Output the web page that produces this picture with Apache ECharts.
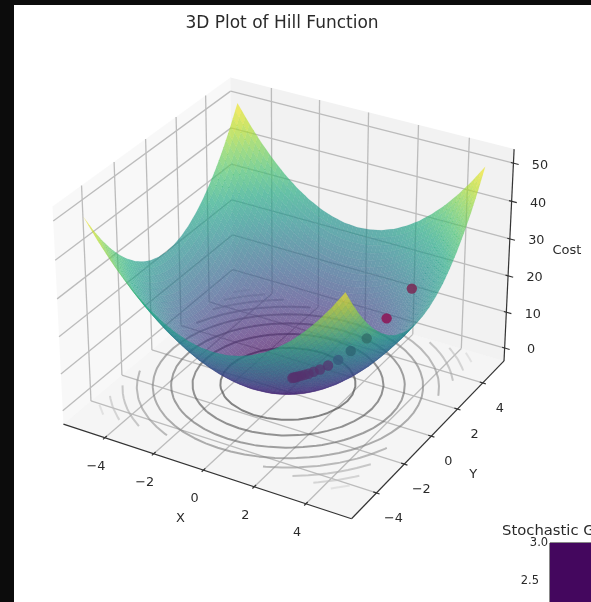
<!DOCTYPE html>
<html><head><meta charset="utf-8">
<style>
html,body{margin:0;padding:0;background:#0c0c0c;width:591px;height:602px;overflow:hidden}
#c{position:absolute;left:14px;top:5px;width:577px;height:597px;background:#fff}
#c canvas{filter:blur(0.55px)}
</style>
<script src="https://cdn.jsdelivr.net/npm/echarts@6/dist/echarts.min.js"></script>
</head><body><div id="c"></div>
<script>
// ---- data ----
const gridX = [-5,-4.5,-4,-3.5,-3,-2.5,-2,-1.5,-1,-0.5,0,0.5,1,1.5,2,2.5,3,3.5,4,4.5,5];
const gridY = [-5,-4.5,-4,-3.5,-3,-2.5,-2,-1.5,-1,-0.5,0,0.5,1,1.5,2,2.5,3,3.5,4,4.5,5];
const costGrid = [
[50,45.25,41,37.25,34,31.25,29,27.25,26,25.25,25,25.25,26,27.25,29,31.25,34,37.25,41,45.25,50],
[45.25,40.5,36.25,32.5,29.25,26.5,24.25,22.5,21.25,20.5,20.25,20.5,21.25,22.5,24.25,26.5,29.25,32.5,36.25,40.5,45.25],
[41,36.25,32,28.25,25,22.25,20,18.25,17,16.25,16,16.25,17,18.25,20,22.25,25,28.25,32,36.25,41],
[37.25,32.5,28.25,24.5,21.25,18.5,16.25,14.5,13.25,12.5,12.25,12.5,13.25,14.5,16.25,18.5,21.25,24.5,28.25,32.5,37.25],
[34,29.25,25,21.25,18,15.25,13,11.25,10,9.25,9,9.25,10,11.25,13,15.25,18,21.25,25,29.25,34],
[31.25,26.5,22.25,18.5,15.25,12.5,10.25,8.5,7.25,6.5,6.25,6.5,7.25,8.5,10.25,12.5,15.25,18.5,22.25,26.5,31.25],
[29,24.25,20,16.25,13,10.25,8,6.25,5,4.25,4,4.25,5,6.25,8,10.25,13,16.25,20,24.25,29],
[27.25,22.5,18.25,14.5,11.25,8.5,6.25,4.5,3.25,2.5,2.25,2.5,3.25,4.5,6.25,8.5,11.25,14.5,18.25,22.5,27.25],
[26,21.25,17,13.25,10,7.25,5,3.25,2,1.25,1,1.25,2,3.25,5,7.25,10,13.25,17,21.25,26],
[25.25,20.5,16.25,12.5,9.25,6.5,4.25,2.5,1.25,0.5,0.25,0.5,1.25,2.5,4.25,6.5,9.25,12.5,16.25,20.5,25.25],
[25,20.25,16,12.25,9,6.25,4,2.25,1,0.25,0,0.25,1,2.25,4,6.25,9,12.25,16,20.25,25],
[25.25,20.5,16.25,12.5,9.25,6.5,4.25,2.5,1.25,0.5,0.25,0.5,1.25,2.5,4.25,6.5,9.25,12.5,16.25,20.5,25.25],
[26,21.25,17,13.25,10,7.25,5,3.25,2,1.25,1,1.25,2,3.25,5,7.25,10,13.25,17,21.25,26],
[27.25,22.5,18.25,14.5,11.25,8.5,6.25,4.5,3.25,2.5,2.25,2.5,3.25,4.5,6.25,8.5,11.25,14.5,18.25,22.5,27.25],
[29,24.25,20,16.25,13,10.25,8,6.25,5,4.25,4,4.25,5,6.25,8,10.25,13,16.25,20,24.25,29],
[31.25,26.5,22.25,18.5,15.25,12.5,10.25,8.5,7.25,6.5,6.25,6.5,7.25,8.5,10.25,12.5,15.25,18.5,22.25,26.5,31.25],
[34,29.25,25,21.25,18,15.25,13,11.25,10,9.25,9,9.25,10,11.25,13,15.25,18,21.25,25,29.25,34],
[37.25,32.5,28.25,24.5,21.25,18.5,16.25,14.5,13.25,12.5,12.25,12.5,13.25,14.5,16.25,18.5,21.25,24.5,28.25,32.5,37.25],
[41,36.25,32,28.25,25,22.25,20,18.25,17,16.25,16,16.25,17,18.25,20,22.25,25,28.25,32,36.25,41],
[45.25,40.5,36.25,32.5,29.25,26.5,24.25,22.5,21.25,20.5,20.25,20.5,21.25,22.5,24.25,26.5,29.25,32.5,36.25,40.5,45.25],
[50,45.25,41,37.25,34,31.25,29,27.25,26,25.25,25,25.25,26,27.25,29,31.25,34,37.25,41,45.25,50]];
const pathX = [3.4,2.72,2.18,1.74,1.39,1.11,0.89,0.71,0.57,0.46,0.36,0.29,0.23,0.19,0.15,0.12];
const pathY = [2.8,2.24,1.79,1.43,1.15,0.92,0.73,0.59,0.47,0.38,0.3,0.24,0.19,0.15,0.12,0.1];
const pathZ = [21.8,14.3,9.3,6.2,4,2.7,1.8,1.3,0.9,0.7,0.5,0.4,0.3,0.2,0.2,0.1];
const contourLevels = [5.8,11.5,17.2,23,28.7,34.4,40,45.6];
const contourPlaneZ = -1.2;
const xTicks = [-4,-2,0,2,4];
const yTicks = [-4,-2,0,2,4];
const zTicks = [0,10,20,30,40,50];
const insetCell = [[-3,3,0,3,0.0]];

// ---- styles ----
const viridis = ['#440154','#482475','#414487','#355f8d','#2a788e','#21918c','#22a884','#44bf70','#7ad151','#bddf26','#fde725'];
const pointStyle = ['rgba(122,40,85,.85)','rgba(140,25,90,.9)','rgba(50,110,105,.8)','rgba(45,100,115,.8)','rgba(55,90,125,.75)'];
const pointStyleRest = 'rgba(85,50,110,.7)';
const SUBDIV = 3, SURF_ALPHA = 0.68;
const PANE = {xmin:-5.73,xmax:5.73,ymin:-5.73,ymax:5.73,zmin:-3.65,zmax:53.65};
const LIM = {x:[-5.5,5.5],y:[-5.5,5.5],z:[-2.5,52.5]};

// ---- matplotlib-like camera ----
const elev=30*Math.PI/180, azim=-60*Math.PI/180, dist=10;
const asp=[4,4,3]; {const n=Math.hypot(...asp), k=1.8294640721620434*25/24/n; for(let i=0;i<3;i++)asp[i]*=k;}
const R=asp.map(a=>a/2);
const nv=[Math.cos(elev)*Math.cos(azim),Math.cos(elev)*Math.sin(azim),Math.sin(elev)];
const eye=R.map((r,i)=>r+dist*nv[i]);
const cross=(a,b)=>[a[1]*b[2]-a[2]*b[1],a[2]*b[0]-a[0]*b[2],a[0]*b[1]-a[1]*b[0]];
const dot=(a,b)=>a[0]*b[0]+a[1]*b[1]+a[2]*b[2];
let uv=cross([0,0,1],nv); {const l=Math.hypot(...uv); uv=uv.map(v=>v/l);}
const vv=cross(nv,uv);
function raw(x,y,z){
  const p=[(x-LIM.x[0])/(LIM.x[1]-LIM.x[0])*asp[0],(y-LIM.y[0])/(LIM.y[1]-LIM.y[0])*asp[1],(z-LIM.z[0])/(LIM.z[1]-LIM.z[0])*asp[2]];
  const d=[p[0]-eye[0],p[1]-eye[1],p[2]-eye[2]];
  const w=-dot(d,nv);
  return [dot(d,uv)/w,dot(d,vv)/w,w];
}
// calibrate the screen transform from the box corners seen in the picture
const P=PANE;
const anchors=[[P.xmin,P.ymin,P.zmin,63,424],[P.xmax,P.ymin,P.zmin,352,518],[P.xmax,P.ymax,P.zmin,504,362],
               [P.xmax,P.ymax,P.zmax,514,149],[P.xmin,P.ymax,P.zmax,230,77],[P.xmin,P.ymin,P.zmax,53,207]];
function fit(idx,t){let n=0,sa=0,sb=0,saa=0,sab=0;for(const a of anchors){const u=raw(a[0],a[1],a[2])[idx],v=a[t];n++;sa+=u;sb+=v;saa+=u*u;sab+=u*v;}
  const m=(n*sab-sa*sb)/(n*saa-sa*sa);return [m,(sb-m*sa)/n];}
const fx=fit(0,3), fy=fit(1,4);
function proj(x,y,z){const r=raw(x,y,z);return [fx[0]*r[0]+fx[1],fy[0]*r[1]+fy[1],r[2]];}

function cmap(t){t=Math.max(0,Math.min(1,t))*(viridis.length-1);const i=Math.min(viridis.length-2,Math.floor(t)),f=t-i;
  const h=s=>[1,3,5].map(k=>parseInt(s.substr(k,2),16));const a=h(viridis[i]),b=h(viridis[i+1]);
  return a.map((v,k)=>Math.round(v+(b[k]-v)*f));}

// ---- build marks from the arrays ----
const zmax=50;
const cells=[];
for(let j=0;j<gridY.length-1;j++)for(let i=0;i<gridX.length-1;i++){
  const x0=gridX[i],x1=gridX[i+1],y0=gridY[j],y1=gridY[j+1];
  const a=costGrid[j][i],b=costGrid[j][i+1],c=costGrid[j+1][i],d=costGrid[j+1][i+1];
  const at=(u,v)=>{const z=a*(1-u)*(1-v)+b*u*(1-v)+c*(1-u)*v+d*u*v;return [x0+(x1-x0)*u,y0+(y1-y0)*v,z];};
  for(let m=0;m<SUBDIV;m++)for(let n=0;n<SUBDIV;n++){
    const q=[at(m/SUBDIV,n/SUBDIV),at((m+1)/SUBDIV,n/SUBDIV),at((m+1)/SUBDIV,(n+1)/SUBDIV),at(m/SUBDIV,(n+1)/SUBDIV)];
    const pts=q.map(p=>proj(p[0],p[1],p[2]));
    const depth=pts.reduce((s,p)=>s+p[2],0)/4, zm=q.reduce((s,p)=>s+p[2],0)/4;
    const col=cmap(zm/zmax);
    cells.push({pts:pts.map(p=>[p[0],p[1]]),depth,fill:`rgba(${col[0]},${col[1]},${col[2]},${SURF_ALPHA})`,
      edge:`rgba(${col[0]},${col[1]},${col[2]},0.18)`});
  }
}
cells.sort((a,b)=>b.depth-a.depth);

// contour polylines traced through the cost grid
const contourLines=[];
contourLevels.forEach(L=>{
  const t=L/50, g=Math.round(40+t*190);
  const col=`rgba(${g},${g},${g},0.62)`;
  const segs=[];
  for(let j=0;j<gridY.length-1;j++)for(let i=0;i<gridX.length-1;i++){
    const cs=[[gridX[i],gridY[j],costGrid[j][i]],[gridX[i+1],gridY[j],costGrid[j][i+1]],[gridX[i+1],gridY[j+1],costGrid[j+1][i+1]],[gridX[i],gridY[j+1],costGrid[j+1][i]]];
    const hits=[];
    for(let e=0;e<4;e++){const A=cs[e],B=cs[(e+1)%4];
      if((A[2]<L)!==(B[2]<L)){const f=(L-A[2])/(B[2]-A[2]);hits.push([A[0]+(B[0]-A[0])*f,A[1]+(B[1]-A[1])*f]);}}
    for(let h=0;h+1<hits.length;h+=2)segs.push([hits[h],hits[h+1]]);
  }
  const key=p=>p[0].toFixed(5)+','+p[1].toFixed(5);
  const used=new Array(segs.length).fill(false);
  const byPt={};
  segs.forEach((s,i)=>{[0,1].forEach(k=>{(byPt[key(s[k])]=byPt[key(s[k])]||[]).push(i);});});
  // start at open ends first, then closed loops
  const order=[...segs.keys()].sort((a,b)=>{const open=i=>byPt[key(segs[i][0])].length<2||byPt[key(segs[i][1])].length<2?0:1;return open(a)-open(b);});
  order.forEach(si=>{
    if(used[si])return;
    used[si]=true;
    let s=segs[si];
    if(byPt[key(s[0])].length>1&&byPt[key(s[1])].length<2)s=[s[1],s[0]];
    const chain=[s[0],s[1]];
    let grew=true;
    while(grew){grew=false;
      const end=chain[chain.length-1];
      for(const n of byPt[key(end)]){ if(used[n])continue;
        used[n]=true;const o=segs[n];chain.push(key(o[0])===key(end)?o[1]:o[0]);grew=true;break;}
    }
    contourLines.push({pts:chain.map(p=>{const r=proj(p[0],p[1],contourPlaneZ);return [r[0],r[1]];}),col});
  });
});

const gridLines=[];
xTicks.forEach(v=>{gridLines.push([[v,P.ymin,P.zmin],[v,P.ymax,P.zmin]]);gridLines.push([[v,P.ymax,P.zmin],[v,P.ymax,P.zmax]]);});
yTicks.forEach(v=>{gridLines.push([[P.xmin,v,P.zmin],[P.xmax,v,P.zmin]]);gridLines.push([[P.xmin,v,P.zmin],[P.xmin,v,P.zmax]]);});
zTicks.forEach(v=>{gridLines.push([[P.xmin,P.ymin,v],[P.xmin,P.ymax,v]]);gridLines.push([[P.xmin,P.ymax,v],[P.xmax,P.ymax,v]]);});

const axisLines=[
 [[P.xmin,P.ymin,P.zmin],[P.xmax,P.ymin,P.zmin]],
 [[P.xmax,P.ymin,P.zmin],[P.xmax,P.ymax,P.zmin]],
 [[P.xmax,P.ymax,P.zmin],[P.xmax,P.ymax,P.zmax]]];
xTicks.forEach(v=>axisLines.push([[v,P.ymin-0.12,P.zmin],[v,P.ymin+0.12,P.zmin]]));
yTicks.forEach(v=>axisLines.push([[P.xmax-0.12,v,P.zmin],[P.xmax+0.12,v,P.zmin]]));
zTicks.forEach(v=>axisLines.push([[P.xmax-0.1,P.ymax,v],[P.xmax+0.2,P.ymax,v]]));

const panes=[
 {c:'rgba(242,242,242,.5)',v:[[P.xmin,P.ymin,P.zmin],[P.xmin,P.ymax,P.zmin],[P.xmin,P.ymax,P.zmax],[P.xmin,P.ymin,P.zmax]]},
 {c:'rgba(230,230,230,.5)',v:[[P.xmin,P.ymax,P.zmin],[P.xmax,P.ymax,P.zmin],[P.xmax,P.ymax,P.zmax],[P.xmin,P.ymax,P.zmax]]},
 {c:'rgba(236,236,236,.5)',v:[[P.xmin,P.ymin,P.zmin],[P.xmax,P.ymin,P.zmin],[P.xmax,P.ymax,P.zmin],[P.xmin,P.ymax,P.zmin]]}];

const labels=[];
const fmt=v=>v<0?'\u2212'+(-v):''+v;
xTicks.forEach(v=>{const p=proj(v,P.ymin,P.zmin);labels.push({x:p[0]-9,y:p[1]+29,t:fmt(v)});});
yTicks.forEach(v=>{const p=proj(P.xmax,v,P.zmin);labels.push({x:p[0]+17,y:p[1]+25.5,t:fmt(v)});});
zTicks.forEach(v=>{const p=proj(P.xmax,P.ymax,v);labels.push({x:p[0]+26.5,y:p[1]+2,t:fmt(v)});});
{const p=proj(-0.8,P.ymin,P.zmin);labels.push({x:p[0]-3,y:p[1]+55,t:'X',fs:13});}
{const p=proj(P.xmax,-0.6,P.zmin);labels.push({x:p[0]+50,y:p[1]+30,t:'Y',fs:13});}
{const p=proj(P.xmax,P.ymax,25);labels.push({x:p[0]+58,y:p[1]-7,t:'Cost',fs:13});}

function idx(a){return a.map((_,i)=>[i,i]);}
const base={type:'custom',coordinateSystem:'cartesian2d',xAxisIndex:0,yAxisIndex:0,silent:true,animation:false,clip:false,progressive:0};
const line=(api,a,b,style)=>{const s=api.coord([a[0],a[1]]),e=api.coord([b[0],b[1]]);return {type:'line',shape:{x1:s[0],y1:s[1],x2:e[0],y2:e[1]},style};};

const chart=echarts.init(document.getElementById('c'),null,{renderer:'canvas'});
chart.setOption({
 animation:false,backgroundColor:'#fff',
 title:[
  {text:'3D Plot of Hill Function',left:263,top:5,textAlign:'center',textStyle:{fontFamily:'DejaVu Sans',fontSize:17,fontWeight:'normal',color:'#2a2a2a'}},
  {text:'Stochastic Gradient Descent',left:483,top:514,textStyle:{fontFamily:'DejaVu Sans',fontSize:14.8,fontWeight:'normal',color:'#2a2a2a'}}
 ],
 grid:[{left:0,right:0,top:0,bottom:0,containLabel:false,outerBoundsMode:'none'},
       {left:536,top:538,width:240,height:228,show:true,borderColor:'#111',borderWidth:1,backgroundColor:'transparent',containLabel:false,outerBoundsMode:'none'}],
 xAxis:[{type:'value',min:14,max:591,show:false,gridIndex:0},
        {type:'value',min:-3,max:3,gridIndex:1,show:false}],
 yAxis:[{type:'value',min:5,max:602,inverse:true,show:false,gridIndex:0},
        {type:'value',min:0,max:3,interval:0.5,gridIndex:1,splitLine:{show:false},
         axisLine:{show:true,lineStyle:{color:'#111'}},axisTick:{show:true,length:3,lineStyle:{color:'#111'}},
         axisLabel:{fontFamily:'DejaVu Sans',fontSize:11.5,color:'#2a2a2a',margin:11,verticalAlign:'middle',alignMaxLabel:'center',alignMinLabel:'center',showMinLabel:true,showMaxLabel:true,formatter:v=>v.toFixed(1)}}],
 series:[
  Object.assign({},base,{data:idx(panes),z:1,renderItem:(p,api)=>{const q=panes[api.value(0)];
    return {type:'polygon',shape:{points:q.v.map(v=>{const r=proj(v[0],v[1],v[2]);return api.coord([r[0],r[1]]);})},style:{fill:q.c}};}}),
  Object.assign({},base,{data:idx(gridLines),z:2,renderItem:(p,api)=>{const g=gridLines[api.value(0)];
    return line(api,proj(...g[0]),proj(...g[1]),{stroke:'#bcbcbc',lineWidth:1.3});}}),
  Object.assign({},base,{data:idx(contourLines),z:3,renderItem:(p,api)=>{const s=contourLines[api.value(0)];
    return {type:'polyline',shape:{points:s.pts.map(q=>api.coord(q))},style:{stroke:s.col,fill:null,lineWidth:2,lineJoin:'round'}};}}),
  Object.assign({},base,{data:idx(cells),z:4,renderItem:(p,api)=>{const c=cells[api.value(0)];
    return {type:'polygon',shape:{points:c.pts.map(q=>api.coord(q))},style:{fill:c.fill,stroke:c.edge,lineWidth:0.35}};}}),
  Object.assign({},base,{data:idx(pathX),z:5,renderItem:(p,api)=>{const i=api.value(0);const r=proj(pathX[i],pathY[i],pathZ[i]);const s=api.coord([r[0],r[1]]);
    return {type:'circle',shape:{cx:s[0],cy:s[1],r:5.2},style:{fill:pointStyle[i]||pointStyleRest}};}}),
  Object.assign({},base,{data:idx(axisLines),z:6,renderItem:(p,api)=>{const g=axisLines[api.value(0)];
    return line(api,proj(...g[0]),proj(...g[1]),{stroke:'#333',lineWidth:1.2});}}),
  Object.assign({},base,{data:idx(labels),z:7,renderItem:(p,api)=>{const l=labels[api.value(0)];const s=api.coord([l.x,l.y]);
    return {type:'text',x:s[0],y:s[1],style:{text:l.t,fill:'#2a2a2a',font:(l.fs||12.8)+'px "DejaVu Sans"',textAlign:'center',textVerticalAlign:'middle'}};}}),
  {type:'custom',coordinateSystem:'cartesian2d',xAxisIndex:1,yAxisIndex:1,silent:true,animation:false,z:3,data:insetCell,
   renderItem:(p,api)=>{const a=api.coord([api.value(0),api.value(3)]),b=api.coord([api.value(1),api.value(2)]);
    return {type:'rect',shape:{x:a[0],y:a[1],width:b[0]-a[0],height:b[1]-a[1]},style:{fill:'#44075e'}};}}
 ]
});
</script></body></html>
